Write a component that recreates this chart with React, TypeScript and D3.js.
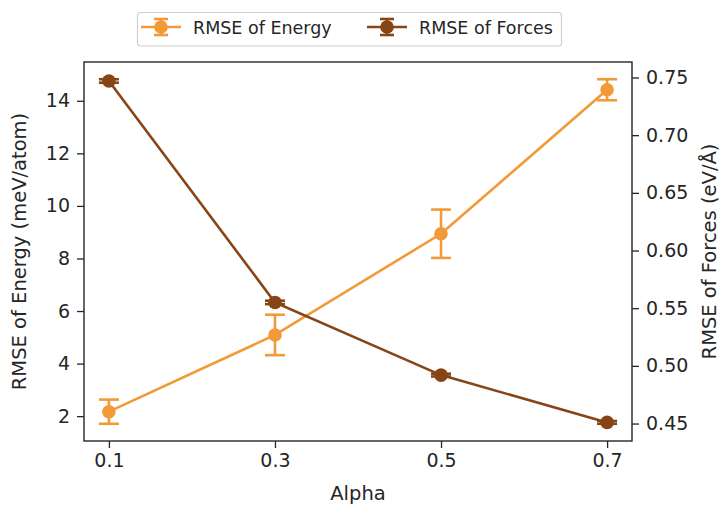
import * as d3 from "d3";
import { useRef, useEffect } from "react";

// values
const alpha = [0.1, 0.3, 0.5, 0.7];
const alphaLabels = ["0.1", "0.3", "0.5", "0.7"];
const energy = [2.17, 5.09, 8.94, 14.42];
const energyErr = [0.46, 0.77, 0.92, 0.4];
const forces = [0.747, 0.555, 0.492, 0.451];
const forcesErr = [0.0015, 0.0015, 0.0012, 0.0012];
const energyTicks = [2, 4, 6, 8, 10, 12, 14];
const forcesTicks = [0.45, 0.5, 0.55, 0.6, 0.65, 0.7, 0.75];

const ORANGE = "#F29A38";
const BROWN = "#874516";
const TEXT = "#262626";
const FONT = "DejaVu Sans, sans-serif";

// matplotlib style 5% margin around the data extent
const padded = (lo: number, hi: number): [number, number] => {
  const m = (hi - lo) * 0.05;
  return [lo - m, hi + m];
};

export default function App() {
  const svgRef = useRef<SVGSVGElement | null>(null);

  useEffect(() => {
    const svg = d3.select(svgRef.current);
    svg.selectAll("*").remove();

    const W = 721;
    const H = 505;
    const left = 84, right = 632, top = 62, bottom = 441;

    const x = d3.scaleLinear().domain(padded(0.1, 0.7)).range([left, right]);

    const eLo = d3.min(energy.map((v, i) => v - energyErr[i]))!;
    const eHi = d3.max(energy.map((v, i) => v + energyErr[i]))!;
    const yE = d3.scaleLinear().domain(padded(eLo, eHi)).range([bottom, top]);

    const fLo = d3.min(forces.map((v, i) => v - forcesErr[i]))!;
    const fHi = d3.max(forces.map((v, i) => v + forcesErr[i]))!;
    const yF = d3.scaleLinear().domain(padded(fLo, fHi)).range([bottom, top]);

    svg.attr("viewBox", `0 0 ${W} ${H}`).style("font-family", FONT);
    svg.append("rect").attr("width", W).attr("height", H).attr("fill", "white");

    // axes
    const axBottom = svg.append("g")
      .attr("transform", `translate(0,${bottom})`)
      .call(d3.axisBottom(x).tickValues(alpha).tickFormat((_, i) => alphaLabels[i]).tickSize(7).tickPadding(6));
    const axLeft = svg.append("g")
      .attr("transform", `translate(${left},0)`)
      .call(d3.axisLeft(yE).tickValues(energyTicks).tickFormat(d3.format("d")).tickSize(7).tickPadding(7));
    const axRight = svg.append("g")
      .attr("transform", `translate(${right},0)`)
      .call(d3.axisRight(yF).tickValues(forcesTicks).tickFormat(d3.format(".2f")).tickSize(7).tickPadding(7));

    [axBottom, axLeft, axRight].forEach(a => {
      a.select(".domain").remove();
      a.selectAll("line").attr("stroke", TEXT).attr("stroke-width", 1.3);
      a.selectAll("text").attr("fill", TEXT).attr("font-size", 19).attr("font-family", FONT);
    });

    // frame
    svg.append("rect")
      .attr("x", left).attr("y", top)
      .attr("width", right - left).attr("height", bottom - top)
      .attr("fill", "none").attr("stroke", TEXT).attr("stroke-width", 1.4);

    const drawSeries = (vals: number[], errs: number[], y: d3.ScaleLinear<number, number>, color: string) => {
      const g = svg.append("g");
      const line = d3.line<number>().x((_, i) => x(alpha[i])).y(d => y(d));
      g.append("path").attr("d", line(vals)!).attr("fill", "none")
        .attr("stroke", color).attr("stroke-width", 2.6);
      const cap = 10;
      vals.forEach((v, i) => {
        const cx = x(alpha[i]);
        const y1 = y(v - errs[i]);
        const y2 = y(v + errs[i]);
        g.append("line").attr("x1", cx).attr("x2", cx).attr("y1", y1).attr("y2", y2)
          .attr("stroke", color).attr("stroke-width", 2.6);
        [y1, y2].forEach(yy =>
          g.append("line").attr("x1", cx - cap).attr("x2", cx + cap).attr("y1", yy).attr("y2", yy)
            .attr("stroke", color).attr("stroke-width", 2.6));
        g.append("circle").attr("cx", cx).attr("cy", y(v)).attr("r", 6.8).attr("fill", color);
      });
    };

    drawSeries(energy, energyErr, yE, ORANGE);
    drawSeries(forces, forcesErr, yF, BROWN);

    // axis labels
    svg.append("text")
      .attr("x", (left + right) / 2).attr("y", 500)
      .attr("text-anchor", "middle").attr("font-size", 19.5).attr("fill", TEXT)
      .text("Alpha");
    svg.append("text")
      .attr("transform", `translate(26,${(top + bottom) / 2}) rotate(-90)`)
      .attr("text-anchor", "middle").attr("font-size", 19.5).attr("fill", TEXT)
      .text("RMSE of Energy (meV/atom)");
    svg.append("text")
      .attr("transform", `translate(716,${(top + bottom) / 2}) rotate(-90)`)
      .attr("text-anchor", "middle").attr("font-size", 19.5).attr("fill", TEXT)
      .text("RMSE of Forces (eV/Å)");

    // legend
    const legend = svg.append("g");
    legend.append("rect")
      .attr("x", 137.5).attr("y", 12.5).attr("width", 424).attr("height", 33.5)
      .attr("rx", 3).attr("fill", "white").attr("stroke", "#d0d0d0").attr("stroke-width", 1.2);
    const items = [
      { name: "RMSE of Energy", color: ORANGE, hx: 141, tx: 193 },
      { name: "RMSE of Forces", color: BROWN, hx: 367, tx: 419 },
    ];
    items.forEach(it => {
      const cy = 27;
      const cx = it.hx + 20;
      legend.append("line").attr("x1", it.hx).attr("x2", it.hx + 40).attr("y1", cy).attr("y2", cy)
        .attr("stroke", it.color).attr("stroke-width", 2.6);
      legend.append("line").attr("x1", cx).attr("x2", cx).attr("y1", cy - 8).attr("y2", cy + 8)
        .attr("stroke", it.color).attr("stroke-width", 2.6);
      [cy - 8, cy + 8].forEach(yy =>
        legend.append("line").attr("x1", cx - 7).attr("x2", cx + 7).attr("y1", yy).attr("y2", yy)
          .attr("stroke", it.color).attr("stroke-width", 2.6));
      legend.append("circle").attr("cx", cx).attr("cy", cy).attr("r", 6.8).attr("fill", it.color);
      legend.append("text").attr("x", it.tx).attr("y", cy + 6.5)
        .attr("font-size", 17.5).attr("fill", TEXT).text(it.name);
    });
  }, []);

  return (
    <svg
      ref={svgRef}
      width={721}
      height={505}
      style={{ position: "absolute", left: 0, top: 0, display: "block" }}
    />
  );
}
